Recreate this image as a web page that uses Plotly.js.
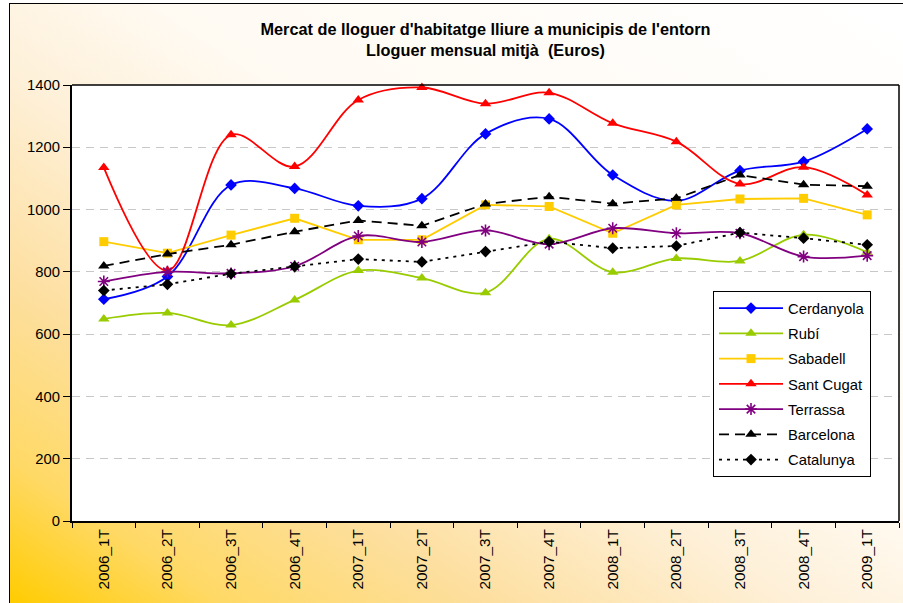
<!DOCTYPE html>
<html>
<head>
<meta charset="utf-8">
<script src="https://cdn.plot.ly/plotly-3.0.1.min.js"></script>
<style>
html,body{margin:0;padding:0;background:#fff;}
#wrap{position:relative;width:903px;height:603px;overflow:hidden;background:#fff;}
#bg{position:absolute;left:9px;top:3px;width:894px;height:600px;border-left:1px solid #000;border-top:1px solid #000;box-sizing:border-box;
background:linear-gradient(to top right,#FFCC00 0%,#FFD966 12%,#FDDFA0 27%,#FEF0D8 44%,#FFFAF2 58%,#FFFFFF 100%);}
#chart{position:absolute;left:0;top:0;width:903px;height:603px;}
</style>
</head>
<body>
<div id="wrap"><div id="bg"></div><div id="chart"></div></div>
<script>
const categories = ["2006_1T","2006_2T","2006_3T","2006_4T","2007_1T","2007_2T","2007_3T","2007_4T","2008_1T","2008_2T","2008_3T","2008_4T","2009_1T"];
const cerdanyola = [712, 785, 1079, 1068, 1012, 1035, 1243, 1291, 1111, 1028, 1125, 1154, 1259];
const rubi       = [649, 668, 629, 710, 804, 780, 733, 906, 799, 843, 835, 919, 863];
const sabadell   = [897, 860, 918, 972, 903, 903, 1015, 1010, 924, 1015, 1034, 1036, 983];
const santCugat  = [1135, 804, 1240, 1138, 1352, 1392, 1340, 1375, 1277, 1218, 1082, 1136, 1047];
const terrassa   = [769, 800, 795, 818, 915, 896, 933, 889, 940, 924, 924, 849, 852];
const barcelona  = [819, 857, 887, 929, 965, 948, 1018, 1041, 1019, 1036, 1111, 1080, 1075];
const catalunya  = [740, 760, 794, 817, 841, 832, 865, 897, 876, 883, 926, 908, 887];
const yTicks = [0, 200, 400, 600, 800, 1000, 1200, 1400];

const FONT = "Arial, 'Liberation Sans', sans-serif";

function tr(name, y, color, symbol, opts) {
  opts = opts || {};
  return {
    type: 'scatter', mode: 'lines+markers', name: name, x: categories, y: y,
    legendgroup: name,
    line: {color: color, width: opts.width || 1.8, dash: opts.dash || 'solid',
           shape: opts.smooth ? 'spline' : 'linear', smoothing: opts.smooth ? 1 : undefined},
    marker: {symbol: symbol, size: opts.size || 9, color: color,
             line: {color: color, width: opts.mlw || 0}},
    cliponaxis: false
  };
}

const data = [
  tr('Cerdanyola', cerdanyola, '#0000FF', 'diamond', {smooth: true, size: 9}),
  tr('Rubí', rubi, '#99CC00', 'triangle-up', {smooth: true, size: 10}),
  tr('Sabadell', sabadell, '#FFCC00', 'square', {size: 9}),
  tr('Sant Cugat', santCugat, '#FF0000', 'triangle-up', {smooth: true, size: 10}),
  tr('Terrassa', terrassa, '#800080', 'asterisk-open', {smooth: true, size: 10, mlw: 1.6}),
  tr('Barcelona', barcelona, '#000000', 'triangle-up', {dash: '10px,6px', size: 10}),
  tr('Catalunya', catalunya, '#000000', 'diamond', {dash: '3px,5px', size: 9})
];

const layout = {
  width: 903, height: 603,
  margin: {l: 72, r: 4, t: 85, b: 82, pad: 0},
  paper_bgcolor: 'rgba(0,0,0,0)',
  plot_bgcolor: '#FFFFFF',
  font: {family: FONT, size: 14.5, color: '#000'},
  title: {
    text: "Mercat de lloguer d'habitatge lliure a municipis de l'entorn<br>Lloguer mensual mitjà  (Euros)",
    font: {family: FONT, size: 16.3, color: '#000', weight: 'bold'},
    x: 0.5, xref: 'paper', xanchor: 'center',
    y: 1 - 35/603, yref: 'container', yanchor: 'middle'
  },
  showlegend: true,
  legend: {
    x: (713-72)/827, xanchor: 'left', y: (521-291)/436, yanchor: 'top',
    bgcolor: '#FFFFFF', bordercolor: '#000000', borderwidth: 1,
    font: {family: FONT, size: 14.8, color: '#000'},
    traceorder: 'grouped', tracegroupgap: 3, itemwidth: 64
  },
  xaxis: {
    type: 'category', tickangle: -90, tickson: 'boundaries',
    ticks: 'outside', ticklen: 5, tickcolor: '#000', tickwidth: 1,
    showline: true, linecolor: '#000', linewidth: 2,
    showgrid: false, zeroline: false, fixedrange: true,
    tickfont: {family: FONT, size: 15.3, color: '#000'},
    range: [-0.5, 12.5]
  },
  yaxis: {
    range: [0, 1400], tickvals: yTicks, ticktext: yTicks.map(String),
    ticks: 'outside', ticklen: 7, tickcolor: '#000', tickwidth: 1,
    showline: true, linecolor: '#000', linewidth: 2,
    showgrid: true, gridcolor: '#C8C8C8', gridwidth: 1, griddash: '8px,6px',
    zeroline: false, fixedrange: true,
    tickfont: {family: FONT, size: 14.8, color: '#000'}
  },
  shapes: [
    {type: 'line', xref: 'paper', yref: 'paper', x0: 0, x1: 1, y0: 1, y1: 1,
     line: {color: '#000', width: 1.5}, layer: 'above'},
    {type: 'line', xref: 'paper', yref: 'paper', x0: 1, x1: 1, y0: 0, y1: 1,
     line: {color: '#000', width: 1.5}, layer: 'above'}
  ]
};

Plotly.newPlot('chart', data, layout, {displayModeBar: false, staticPlot: true});
</script>
</body>
</html>
